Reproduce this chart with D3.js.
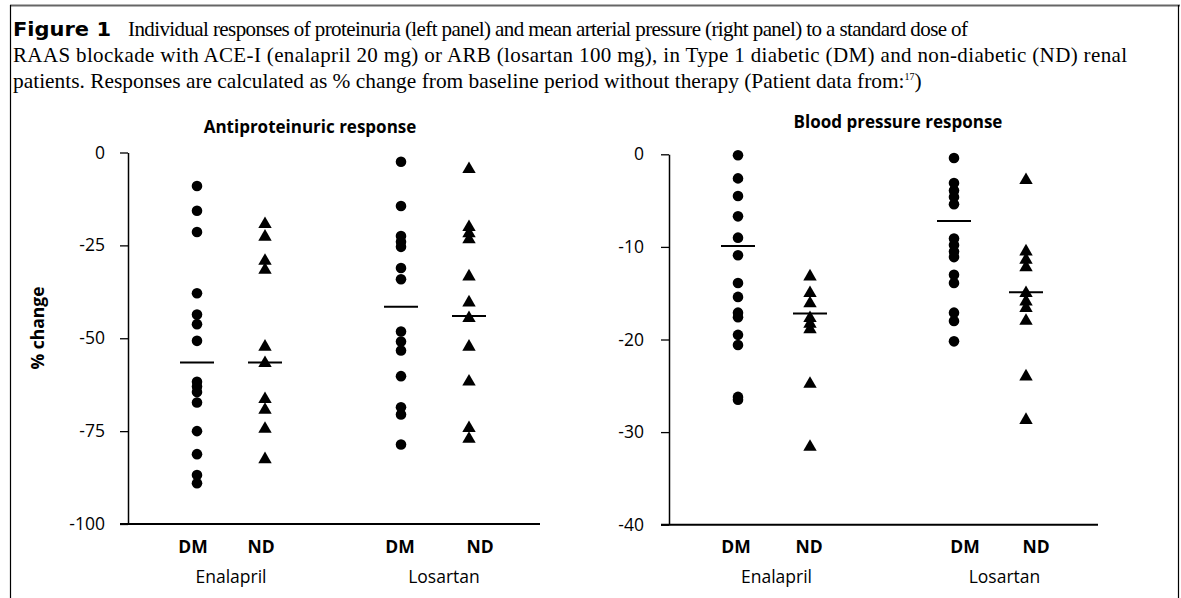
<!DOCTYPE html>
<html>
<head>
<meta charset="utf-8">
<script src="https://cdn.jsdelivr.net/npm/d3@7"></script>
<style>
  body { margin: 0; background: #fff; }
  svg { display: block; }
</style>
</head>
<body>
<div id="chart"></div>
<script>
// categories
const groups = ['DM', 'ND', 'DM', 'ND'];
const drugs = ['Enalapril', 'Losartan'];
const slots = [0, 1, 3, 4];          // DM/ND slots, gap between drugs
const shapes = ['circle', 'triangle', 'circle', 'triangle'];

// proteinuria % change (left panel)
const protEnaDM = [-9.0, -15.7, -21.4, -37.9, -43.6, -46.2, -50.7, -61.7, -63.0, -64.5, -67.3, -75.0, -81.2, -86.8, -89.0];
const protEnaND = [-19.3, -22.7, -29.2, -31.6, -52.3, -56.7, -66.4, -69.3, -74.4, -82.6];
const protLosDM = [-2.5, -14.4, -22.5, -24.0, -25.4, -31.1, -34.1, -48.2, -50.9, -53.3, -60.2, -68.6, -70.5, -78.6];
const protLosND = [-4.5, -20.1, -21.8, -23.4, -33.4, -40.4, -44.6, -52.3, -61.7, -74.2, -77.1];
const protMeans = [-56.5, -56.5, -41.5, -44.0];
const protTicks = [0, -25, -50, -75, -100];

// mean arterial pressure % change (right panel)
const bpEnaDM = [-0.1, -2.6, -4.5, -6.7, -9.0, -10.9, -13.9, -15.4, -17.1, -17.6, -19.5, -20.6, -26.2, -26.5];
const bpEnaND = [-13.2, -15.0, -16.1, -17.7, -18.3, -18.9, -24.8, -31.6];
const bpLosDM = [-0.4, -3.1, -3.9, -4.6, -5.4, -9.1, -9.8, -10.5, -11.1, -13.0, -13.9, -17.1, -18.0, -20.2];
const bpLosND = [-2.8, -10.5, -11.4, -12.2, -15.0, -15.9, -16.6, -18.0, -24.0, -28.7];
const bpMeans = [-9.9, -17.2, -7.2, -14.9];
const bpTicks = [0, -10, -20, -30, -40];

const W = 1181, H = 598;
const sans = '"Open Sans", "DejaVu Sans", sans-serif';
const serif = '"Liberation Serif", "Times New Roman", serif';

const svg = d3.select('#chart').append('svg')
  .attr('width', W).attr('height', H);

svg.append('rect').attr('width', W).attr('height', H).attr('fill', '#fff');

// frame
svg.append('line').attr('x1', 10).attr('x2', 1180).attr('y1', 5.5).attr('y2', 5.5)
  .attr('stroke', '#666').attr('stroke-width', 2);
svg.append('line').attr('x1', 10.5).attr('x2', 10.5).attr('y1', 5).attr('y2', H)
  .attr('stroke', '#000').attr('stroke-width', 1.2);
svg.append('line').attr('x1', 1178.5).attr('x2', 1178.5).attr('y1', 5).attr('y2', H)
  .attr('stroke', '#000').attr('stroke-width', 1.2);

// caption
svg.append('text').attr('x', 13).attr('y', 36)
  .attr('font-family', '"DejaVu Sans", sans-serif').attr('font-weight', 900)
  .attr('font-size', 19).attr('textLength', 98).attr('lengthAdjust', 'spacingAndGlyphs')
  .text('Figure 1');
svg.append('text').attr('x', 128).attr('y', 36)
  .attr('font-family', serif).attr('font-size', 21)
  .attr('textLength', 840).attr('lengthAdjust', 'spacing')
  .text('Individual responses of proteinuria (left panel) and mean arterial pressure  (right panel) to a standard dose of');
svg.append('text').attr('x', 13).attr('y', 62)
  .attr('font-family', serif).attr('font-size', 21)
  .attr('textLength', 1114).attr('lengthAdjust', 'spacing')
  .text('RAAS blockade with ACE-I (enalapril 20 mg) or  ARB (losartan 100 mg), in Type 1 diabetic (DM) and non-diabetic (ND) renal');
const l3 = svg.append('text').attr('x', 13).attr('y', 88)
  .attr('font-family', serif).attr('font-size', 21.4)
  .text('patients. Responses are calculated as % change from baseline period without therapy (Patient data from:');
l3.append('tspan').attr('font-size', 10).attr('dy', -8).text('17');
l3.append('tspan').attr('dy', 8).text(')');

const tri = d3.symbol().type(d3.symbolTriangle).size(78);
const circ = d3.symbol().type(d3.symbolCircle).size(88);

function panel(opts) {
  const { x0, step, yTop, yBot, ticks, series, means, title, titleX, titleY, xEnd, labelShift, drugShift } = opts;
  const g = svg.append('g');

  const y = d3.scaleLinear().domain([0, ticks[ticks.length - 1]]).range([yTop, yBot]);
  const x = d3.scaleLinear().domain([0, 4]).range([x0 + 69, x0 + 69 + 4 * step]);

  // y axis
  const ya = g.append('g').attr('transform', `translate(${x0},0)`)
    .call(d3.axisLeft(y).tickValues(ticks)
      .tickSize(8).tickSizeOuter(0).tickPadding(opts.pad));
  ya.select('.domain').attr('stroke-width', 1.5);
  ya.selectAll('.tick line').attr('stroke-width', 1.3);
  ya.selectAll('.tick text').attr('font-family', sans).attr('font-size', 17.5).attr('fill', '#000')
    .text(d => d === 0 ? '0' : String(d));

  // x axis baseline
  g.append('line')
    .attr('x1', x0 - 8).attr('x2', xEnd)
    .attr('y1', y(ticks[ticks.length - 1])).attr('y2', y(ticks[ticks.length - 1]))
    .attr('stroke', '#000').attr('stroke-width', 2);

  // points
  series.forEach((vals, i) => {
    g.append('g').selectAll('path').data(vals).join('path')
      .attr('transform', d => `translate(${x(slots[i])},${y(d)})`)
      .attr('d', shapes[i] === 'circle' ? circ() : tri())
      .attr('fill', '#000');
  });

  // mean lines
  g.append('g').selectAll('line').data(means).join('line')
    .attr('x1', (d, i) => x(slots[i]) - 17).attr('x2', (d, i) => x(slots[i]) + 17)
    .attr('y1', d => y(d)).attr('y2', d => y(d))
    .attr('stroke', '#000').attr('stroke-width', 2);

  // group labels
  g.append('g').selectAll('text').data(groups).join('text')
    .attr('x', (d, i) => x(slots[i]) + labelShift[i]).attr('y', 553)
    .attr('text-anchor', 'middle').attr('font-family', sans)
    .attr('font-weight', 700).attr('font-size', 17.5).text(d => d);

  // drug labels
  g.append('g').selectAll('text').data(drugs).join('text')
    .attr('x', (d, i) => (x(slots[2 * i]) + labelShift[2 * i] + x(slots[2 * i + 1]) + labelShift[2 * i + 1]) / 2 + drugShift)
    .attr('y', 583)
    .attr('text-anchor', 'middle').attr('font-family', sans)
    .attr('font-size', 17.5).text(d => d);

  // panel title
  g.append('text').attr('x', titleX).attr('y', titleY)
    .attr('text-anchor', 'middle').attr('font-family', sans)
    .attr('font-weight', 700).attr('font-size', 17).text(title);

  return g;
}

panel({
  x0: 128, step: 68, yTop: 152.5, yBot: 524, pad: 15,
  ticks: protTicks,
  series: [protEnaDM, protEnaND, protLosDM, protLosND],
  means: protMeans,
  title: 'Antiproteinuric response', titleX: 310, titleY: 133,
  xEnd: 540, labelShift: [-4, -4, -1, 11], drugShift: 4
});

panel({
  x0: 669, step: 72, yTop: 154.3, yBot: 524.7, pad: 17,
  ticks: bpTicks,
  series: [bpEnaDM, bpEnaND, bpLosDM, bpLosND],
  means: bpMeans,
  title: 'Blood pressure response', titleX: 898, titleY: 128,
  xEnd: 1098, labelShift: [-2, -1, 11, 10], drugShift: 4
});

// y axis title
svg.append('text')
  .attr('transform', 'translate(44,328) rotate(-90)')
  .attr('text-anchor', 'middle').attr('font-family', sans)
  .attr('font-weight', 700).attr('font-size', 17.5).text('% change');
</script>
</body>
</html>
